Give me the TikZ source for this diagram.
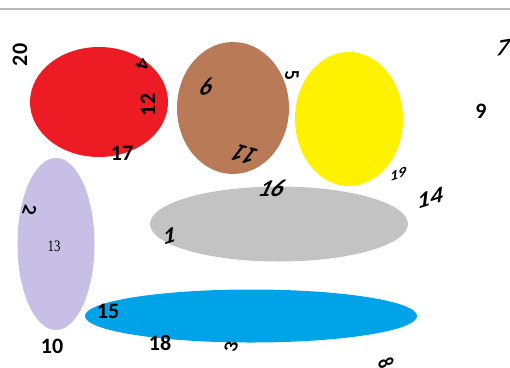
\documentclass[tikz,border=0pt]{standalone}
\usepackage{fontspec}
\setmainfont{Carlito}
\newfontfamily\smallserif{Liberation Serif}
\usepackage{xcolor}
\usepackage{tikz}
\usetikzlibrary{positioning,calc}

\definecolor{blobred}{HTML}{ED1C24}
\definecolor{blobbrown}{HTML}{B97A57}
\definecolor{blobyellow}{HTML}{FFF200}
\definecolor{bloblilac}{HTML}{C8BFE7}
\definecolor{blobgrey}{HTML}{C3C3C3}
\definecolor{blobblue}{HTML}{00A2E8}

\begin{document}
\begin{tikzpicture}[x=1pt, y=-1pt,
    num/.style={inner sep=0pt, font=\fontsize{22}{22}\selectfont\bfseries},
    slant/.style={inner sep=0pt, xslant=0.35, font=\fontsize{24}{24}\selectfont\bfseries\itshape}]
    \useasboundingbox (0,0) rectangle (510,367);
    \draw [gray!55, line width=1.5pt] (0,9) -- (510,9);

    % the blobs
    \fill [blobred] (99,102) ellipse [x radius=69, y radius=55];
    \fill [blobbrown] (233,108) ellipse [x radius=56, y radius=66];
    \fill [blobyellow] (349,119) ellipse [x radius=54, y radius=67];
    \fill [bloblilac] (56,244) ellipse [x radius=38.5, y radius=86];
    \fill [blobgrey] (279,224) ellipse [x radius=129, y radius=37.5];
    \fill [blobblue] (251,316) ellipse [x radius=166, y radius=26.5];

    % the numbers
    \node [num, rotate=90] (n20) at (20,55) {20};
    \node [slant, rotate=-100, font=\fontsize{20}{20}\selectfont\bfseries\itshape] (n4) at (143,64) {4};
    \node [num, rotate=90] (n12) at (148,105) {12};
    \node [num] (n17) at (122,153) {17};
    \node [slant, rotate=15] (n6) at (206,87) {6};
    \node [slant, rotate=-75, font=\fontsize{20}{20}\selectfont\bfseries\itshape] (n5) at (292,75) {5};
    \node [slant, rotate=165] (n11) at (245,155) {11};
    \node [slant] (n16) at (272,188) {16};
    \node [slant, rotate=20, font=\fontsize{15}{15}\selectfont\bfseries\itshape] (n19) at (398,174) {19};
    \node [slant, rotate=20] (n14) at (430,198) {14};
    \node [num] (n9) at (481,111) {9};
    \node [slant, rotate=10] (n7) at (503,48) {7};
    \node [slant, rotate=-90, font=\fontsize{20}{20}\selectfont\bfseries\itshape] (n2) at (30,210) {2};
    \node [inner sep=0pt, xscale=0.8, font=\fontsize{16}{16}\selectfont\smallserif] (n13) at (54,246) {13};
    \node [slant, rotate=20] (n1) at (169,236) {1};
    \node [num] (n15) at (108,311) {15};
    \node [num] (n10) at (52,346) {10};
    \node [num] (n18) at (160,343) {18};
    \node [slant, rotate=90, font=\fontsize{20}{20}\selectfont\bfseries\itshape] (n3) at (231,347) {3};
    \node [slant, rotate=-60, font=\fontsize{20}{20}\selectfont\bfseries\itshape] (n8) at (386,362) {8};
\end{tikzpicture}
\end{document}
